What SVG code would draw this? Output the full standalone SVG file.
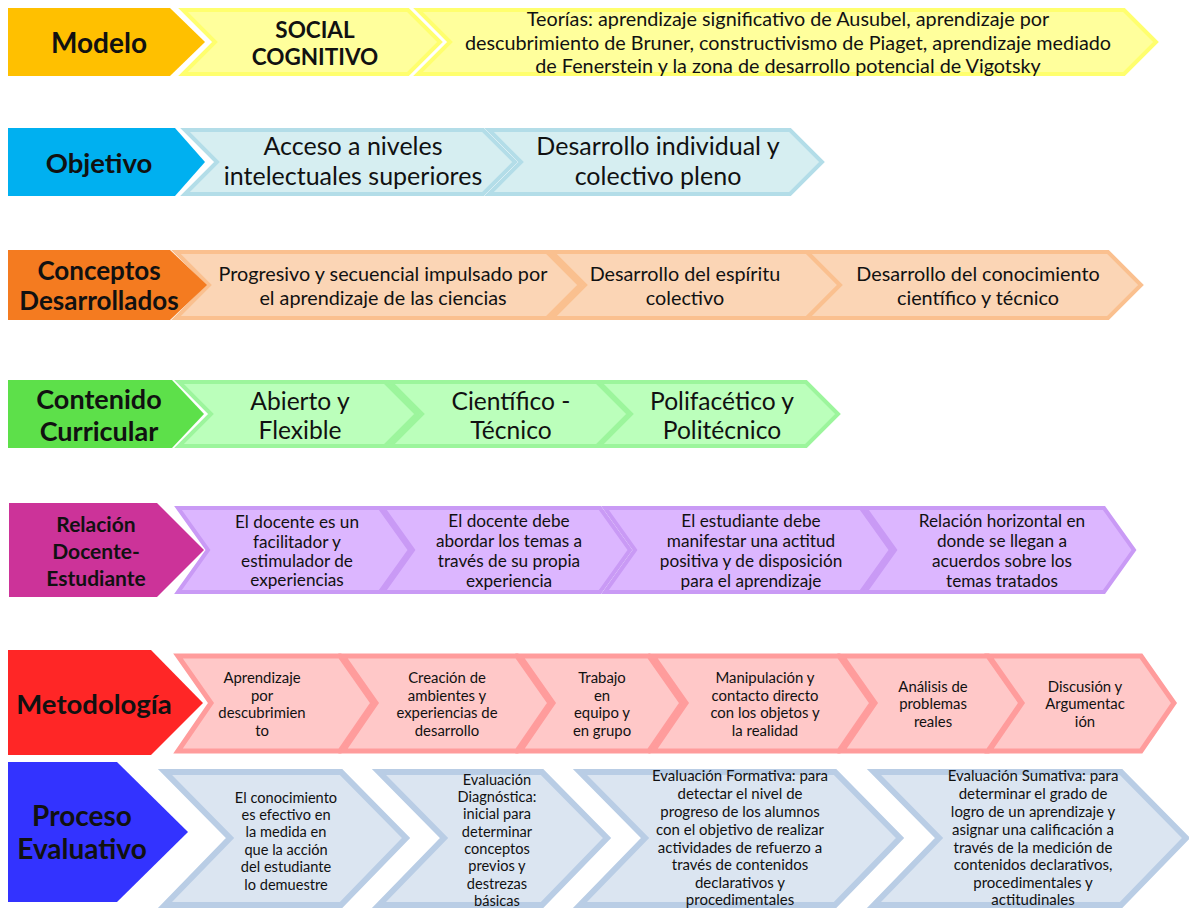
<svg xmlns="http://www.w3.org/2000/svg" width="1189" height="908" viewBox="0 0 1189 908">
<style>
text{font-family:Lato,"Liberation Sans",sans-serif;fill:#111;text-anchor:middle;dominant-baseline:central}
.lb{font-weight:bold}
.ch{stroke-linejoin:miter;stroke-width:4}
.y{fill:#FFFF9C;stroke:#FFFF6E}
.b{fill:#D6EEF1;stroke:#B3DDE8}
.o{fill:#FBD5B5;stroke:#FAC08F}
.g{fill:#BBFFBB;stroke:#9CF59C}
.p{fill:#DCB6FF;stroke:#C99AF5}
.r{fill:#FFC8C8;stroke:#FF9C9C;stroke-width:5}
.s{fill:#DBE5F1;stroke:#B9CDE5;stroke-width:6}
</style>
<rect width="1189" height="908" fill="#fff"/>
<g id="connectors"></g>

<!-- Row 1 -->
<g id="row-modelo">
<polygon class="ch y" points="183,10 408,10 440,42 408,74 183,74 215,42"/>
<polygon class="ch y" points="418,10 1124,10 1156,42 1124,74 418,74 450,42"/>
<polygon points="8,8 170,8 205,42 170,76 8,76" fill="#FFC000"/>
<text class="lb" x="99" y="42" font-size="28">Modelo</text>
<text class="lb" font-size="22.5" x="315" y="29">SOCIAL</text>
<text class="lb" font-size="22.5" x="315" y="56">COGNITIVO</text>
<text font-size="19.8" x="788" y="18">Teorías: aprendizaje significativo de Ausubel, aprendizaje por</text>
<text font-size="19.8" x="788" y="42">descubrimiento de Bruner, constructivismo de Piaget, aprendizaje mediado</text>
<text font-size="19.8" x="788" y="65">de Fenerstein y la zona de desarrollo potencial de Vigotsky</text>
</g>

<!-- Row 2 -->
<g id="row-objetivo">
<polygon class="ch b" points="185,130 483,130 515,162 483,194 185,194 217,162"/>
<polygon class="ch b" points="489,130 790,130 822,162 790,194 489,194 521,162"/>
<polygon points="8,128 175,128 205,162 175,196 8,196" fill="#00B0F0"/>
<text class="lb" x="99" y="162" font-size="27.5">Objetivo</text>
<text font-size="25" x="353" y="145">Acceso a niveles</text>
<text font-size="25" x="353" y="175">intelectuales superiores</text>
<text font-size="25" x="658" y="145">Desarrollo individual y</text>
<text font-size="25" x="658" y="175">colectivo pleno</text>
</g>

<!-- Row 3 -->
<g id="row-conceptos">
<polygon class="ch o" points="176,252 547,252 580,285 547,318 176,318 209,285"/>
<polygon class="ch o" points="552,252 807,252 840,285 807,318 552,318 585,285"/>
<polygon class="ch o" points="807,252 1108,252 1141,285 1108,318 807,318 840,285"/>
<polygon points="8,250 170,250 207,285 170,320 8,320" fill="#F47B20"/>
<text class="lb" x="99" y="270" font-size="26">Conceptos</text>
<text class="lb" x="99" y="300" font-size="26">Desarrollados</text>
<text font-size="19.8" x="383" y="273">Progresivo y secuencial impulsado por</text>
<text font-size="19.8" x="383" y="297">el aprendizaje de las ciencias</text>
<text font-size="19.8" x="685" y="273">Desarrollo del espíritu</text>
<text font-size="19.8" x="685" y="297">colectivo</text>
<text font-size="19.8" x="978" y="273">Desarrollo del conocimiento</text>
<text font-size="19.8" x="978" y="297">científico y técnico</text>
</g>

<!-- Row 4 -->
<g id="row-contenido">
<polygon class="ch g" points="179,382 385,382 417,414 385,446 179,446 211,414"/>
<polygon class="ch g" points="390,382 597,382 629,414 597,446 390,446 422,414"/>
<polygon class="ch g" points="599,382 806,382 838,414 806,446 599,446 631,414"/>
<polygon points="8,380 172,380 204,414 172,448 8,448" fill="#5DE04A"/>
<text class="lb" x="99" y="398" font-size="27">Contenido</text>
<text class="lb" x="99" y="430" font-size="27">Curricular</text>
<text font-size="24.6" x="300" y="400">Abierto y</text>
<text font-size="24.6" x="300" y="429">Flexible</text>
<text font-size="24.6" x="511" y="400">Científico -</text>
<text font-size="24.6" x="511" y="429">Técnico</text>
<text font-size="24.6" x="722" y="400">Polifacético y</text>
<text font-size="24.6" x="722" y="429">Politécnico</text>
</g>

<!-- Row 5 -->
<g id="row-relacion">
<polygon class="ch p" points="178,508 380,508 410,550 380,592 178,592 208,550"/>
<polygon class="ch p" points="383,508 600,508 630,550 600,592 383,592 413,550"/>
<polygon class="ch p" points="605,508 861,508 891,550 861,592 605,592 635,550"/>
<polygon class="ch p" points="865,508 1104,508 1134,550 1104,592 865,592 895,550"/>
<polygon points="9,503 157,503 204,550 157,597 9,597" fill="#CC3399"/>
<text class="lb" x="96" y="523" font-size="21">Relación</text>
<text class="lb" x="96" y="550" font-size="21">Docente-</text>
<text class="lb" x="96" y="577" font-size="21">Estudiante</text>
<g font-size="17.2">
<text x="297" y="521">El docente es un</text>
<text x="297" y="541">facilitador y</text>
<text x="297" y="560">estimulador de</text>
<text x="297" y="579">experiencias</text>
<text x="509" y="520">El docente debe</text>
<text x="509" y="540">abordar los temas a</text>
<text x="509" y="560">través de su propia</text>
<text x="509" y="580">experiencia</text>
<text x="751" y="520">El estudiante debe</text>
<text x="751" y="540">manifestar una actitud</text>
<text x="751" y="560">positiva y de disposición</text>
<text x="751" y="580">para el aprendizaje</text>
<text x="1002" y="520">Relación horizontal en</text>
<text x="1002" y="540">donde se llegan a</text>
<text x="1002" y="560">acuerdos sobre los</text>
<text x="1002" y="580">temas tratados</text>
</g>
</g>

<!-- Row 6 -->
<g id="row-metodologia">
<polygon class="ch r" points="178,656 340,656 373,703 340,751 178,751 211,703"/>
<polygon class="ch r" points="343,656 517,656 550,703 517,751 343,751 376,703"/>
<polygon class="ch r" points="520,656 649,656 682,703 649,751 520,751 553,703"/>
<polygon class="ch r" points="653,656 839,656 872,703 839,751 653,751 686,703"/>
<polygon class="ch r" points="842,656 988,656 1021,703 988,751 842,751 875,703"/>
<polygon class="ch r" points="989,656 1141,656 1174,703 1141,751 989,751 1022,703"/>
<polygon points="8,650 151,650 203,703 151,755 8,755" fill="#FF2626"/>
<text class="lb" x="94" y="703" font-size="27.5">Metodología</text>
<g font-size="14.9">
<text x="262" y="677">Aprendizaje</text>
<text x="262" y="695">por</text>
<text x="262" y="712">descubrimien</text>
<text x="262" y="730">to</text>
<text x="447" y="677">Creación de</text>
<text x="447" y="695">ambientes y</text>
<text x="447" y="712">experiencias de</text>
<text x="447" y="730">desarrollo</text>
<text x="602" y="677">Trabajo</text>
<text x="602" y="695">en</text>
<text x="602" y="712">equipo y</text>
<text x="602" y="730">en grupo</text>
<text x="765" y="677">Manipulación y</text>
<text x="765" y="695">contacto directo</text>
<text x="765" y="712">con los objetos y</text>
<text x="765" y="730">la realidad</text>
<text x="933" y="686">Análisis de</text>
<text x="933" y="703">problemas</text>
<text x="933" y="721">reales</text>
<text x="1085" y="686">Discusión y</text>
<text x="1085" y="703">Argumentac</text>
<text x="1085" y="721">ión</text>
</g>
</g>

<!-- Row 7 -->
<g id="row-proceso">
<polygon class="ch s" points="165,772 341,772 406,838 341,905 165,905 230,838"/>
<polygon class="ch s" points="379,772 542,772 607,838 542,905 379,905 444,838"/>
<polygon class="ch s" points="580,772 835,772 900,838 835,905 580,905 645,838"/>
<polygon class="ch s" points="874,772 1121,772 1186,838 1121,905 874,905 939,838"/>
<polygon points="8,762 117,762 188,832 117,902 8,902" fill="#3333FF"/>
<text class="lb" x="82" y="815" font-size="28">Proceso</text>
<text class="lb" x="82" y="848" font-size="28">Evaluativo</text>
<g font-size="14.6">
<text x="286" y="797">El conocimiento</text>
<text x="286" y="814">es efectivo en</text>
<text x="286" y="831">la medida en</text>
<text x="286" y="849">que la acción</text>
<text x="286" y="866">del estudiante</text>
<text x="286" y="884">lo demuestre</text>
<text x="497" y="779">Evaluación</text>
<text x="497" y="796">Diagnóstica:</text>
<text x="497" y="813">inicial para</text>
<text x="497" y="831">determinar</text>
<text x="497" y="848">conceptos</text>
<text x="497" y="865">previos y</text>
<text x="497" y="883">destrezas</text>
<text x="497" y="900">básicas</text>
</g>
<g font-size="15">
<text x="740" y="775">Evaluación Formativa: para</text>
<text x="740" y="793">detectar el nivel de</text>
<text x="740" y="811">progreso de los alumnos</text>
<text x="740" y="829">con el objetivo de realizar</text>
<text x="740" y="847">actividades de refuerzo a</text>
<text x="740" y="864">través de contenidos</text>
<text x="740" y="882">declarativos y</text>
<text x="740" y="899">procedimentales</text>
<text x="1033" y="775">Evaluación Sumativa: para</text>
<text x="1033" y="793">determinar el grado de</text>
<text x="1033" y="811">logro de un aprendizaje y</text>
<text x="1033" y="829">asignar una calificación a</text>
<text x="1033" y="847">través de la medición de</text>
<text x="1033" y="864">contenidos declarativos,</text>
<text x="1033" y="882">procedimentales y</text>
<text x="1033" y="899">actitudinales</text>
</g>
</g>
</svg>
